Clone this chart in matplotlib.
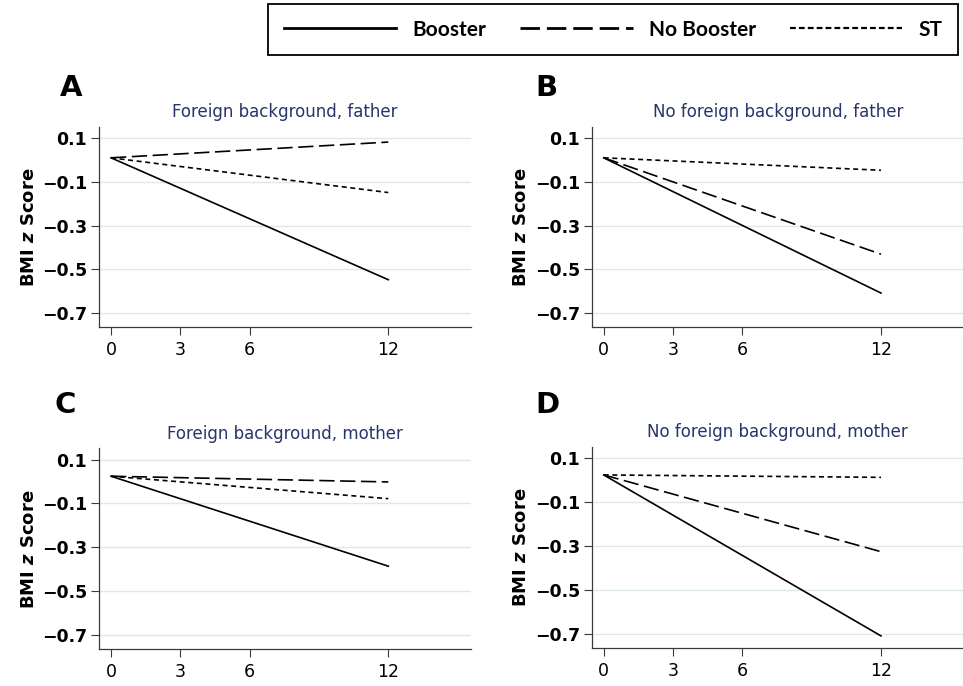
import matplotlib
matplotlib.use('Agg')
import matplotlib.pyplot as plt
from matplotlib.lines import Line2D

plt.rcParams['font.family'] = ['DejaVu Sans']
plt.rcParams['lines.scale_dashes'] = False
plt.rcParams['mathtext.fontset'] = 'custom'
plt.rcParams['mathtext.it'] = 'DejaVu Sans:style=italic:weight=bold'
plt.rcParams['mathtext.rm'] = 'DejaVu Sans:weight=bold'

# ---------------- data ----------------
months = [0, 12]
x_ticks = [0, 3, 6, 12]
y_ticks = [0.1, -0.1, -0.3, -0.5, -0.7]
y_tick_labels = ['0.1', '\u22120.1', '\u22120.3', '\u22120.5', '\u22120.7']

panel_letters = ['A', 'B', 'C', 'D']
panel_titles = ['Foreign background, father', 'No foreign background, father',
                'Foreign background, mother', 'No foreign background, mother']

booster_A = [0.010, -0.548]
no_booster_A = [0.010, 0.082]
st_A = [0.010, -0.149]

booster_B = [0.010, -0.609]
no_booster_B = [0.010, -0.431]
st_B = [0.010, -0.047]

booster_C = [0.024, -0.385]
no_booster_C = [0.024, -0.002]
st_C = [0.024, -0.078]

booster_D = [0.024, -0.708]
no_booster_D = [0.024, -0.325]
st_D = [0.024, 0.013]

series_names = ['Booster', 'No Booster', 'ST']
panel_data = [
    (booster_A, no_booster_A, st_A),
    (booster_B, no_booster_B, st_B),
    (booster_C, no_booster_C, st_C),
    (booster_D, no_booster_D, st_D),
]

# ---------------- layout ----------------
W, H = 963, 686
fig = plt.figure(figsize=(W / 100, H / 100), dpi=100)

def frac(left, top, right, bottom):
    return [left / W, 1 - bottom / H, (right - left) / W, (bottom - top) / H]

axes_rects = [
    frac(99, 127, 471, 326.7),
    frac(591.7, 127, 963.7, 326.7),
    frac(99, 448.3, 471, 649.3),
    frac(591.7, 447, 963.7, 648),
]
letter_pos = [(60, 88), (535, 88), (54, 405), (535, 405)]

styles = [
    dict(linestyle='-'),
    dict(dashes=(11, 4)),
    dict(dashes=(3.6, 2.6)),
]

title_color = '#27356b'
grid_color = '#dde7ee'
spine_color = '#3a3a3a'

for i in range(4):
    ax = fig.add_axes(axes_rects[i])
    for vals, st, name in zip(panel_data[i], styles, series_names):
        ax.plot(months, vals, color='black', lw=1.2, label=name, **st)
    ax.set_xlim(-0.52, 15.58)
    ax.set_ylim(-0.763, 0.151)
    ax.set_xticks(x_ticks)
    ax.set_xticklabels([str(t) for t in x_ticks])
    ax.set_yticks(y_ticks)
    ax.set_yticklabels(y_tick_labels, fontweight='bold')
    ax.grid(axis='y', color=grid_color, lw=1.0)
    ax.grid(axis='x', visible=False)
    ax.set_axisbelow(True)
    for s in ['top', 'right']:
        ax.spines[s].set_visible(False)
    for s in ['left', 'bottom']:
        ax.spines[s].set_color(spine_color)
        ax.spines[s].set_linewidth(0.9)
    ax.tick_params(axis='y', length=6, width=0.8, color=spine_color,
                   labelsize=12.5, pad=2.5)
    ax.tick_params(axis='x', length=6, width=0.8, color=spine_color,
                   labelsize=12.5, pad=4)
    ax.set_ylabel('BMI $z$ Score', fontsize=13, fontweight='bold')
    ax.yaxis.set_label_coords(-0.165, 0.5)
    ax.set_title(panel_titles[i], color=title_color, fontsize=12, pad=7)
    lx, ly = letter_pos[i]
    fig.text(lx / W, 1 - ly / H, panel_letters[i], fontsize=21,
             fontweight='bold', ha='left', va='center')

handles = [
    Line2D([], [], color='black', lw=2.0, linestyle='-'),
    Line2D([], [], color='black', lw=2.0, dashes=(14, 5)),
    Line2D([], [], color='black', lw=1.6, dashes=(4.2, 2.2)),
]
leg = fig.legend(handles, series_names, ncol=3, loc='upper left',
                 bbox_to_anchor=(268 / W, 1 - 4 / H, 690 / W, 0.0),
                 mode='expand', frameon=True, fancybox=False,
                 prop={'family': 'Lato', 'weight': 'bold', 'size': 15},
                 handlelength=5.4, handletextpad=0.77, columnspacing=1.6,
                 borderpad=0.75, borderaxespad=0.0)
leg.get_frame().set_edgecolor('black')
leg.get_frame().set_linewidth(1.3)
leg.get_frame().set_alpha(1)

fig.savefig('out.png', dpi=100)
